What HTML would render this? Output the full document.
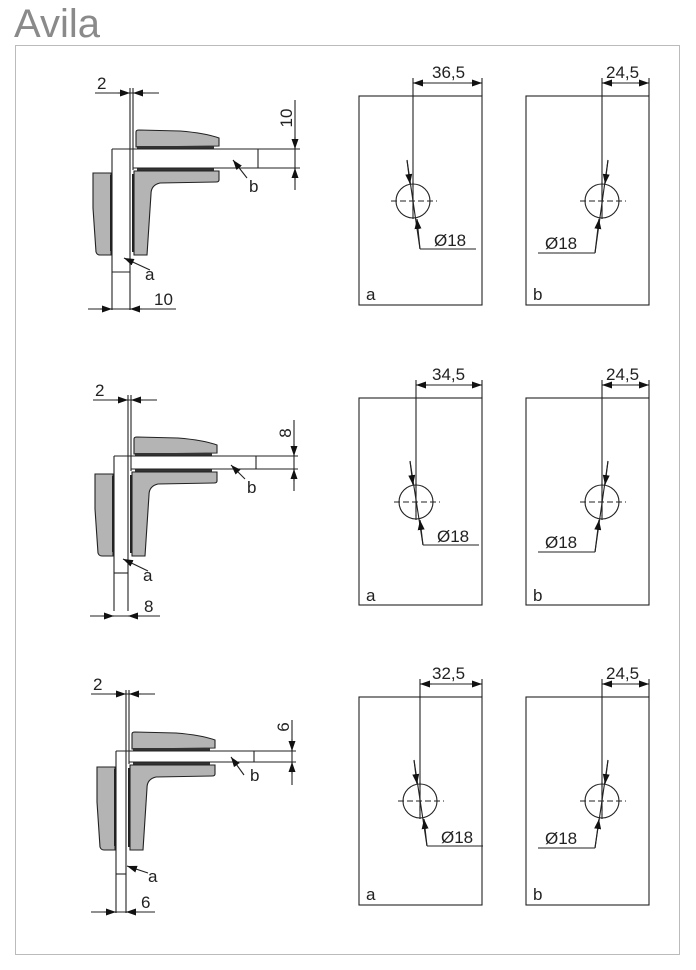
<!DOCTYPE html>
<html><head><meta charset="utf-8"><style>
html,body{margin:0;padding:0;background:#fff;}
svg{display:block;}
text{font-family:"Liberation Sans",sans-serif;fill:#222;}
</style></head><body>
<svg width="696" height="970" viewBox="0 0 696 970" xmlns="http://www.w3.org/2000/svg">
<defs>
<marker id="ar" markerWidth="10" markerHeight="7" refX="10" refY="3.5" orient="auto" markerUnits="userSpaceOnUse"><path d="M0,0 L10,3.5 L0,7 z" fill="#111"/></marker>
</defs>
<text x="14" y="37" font-size="40" style="fill:#8a8a8a">Avila</text>
<rect x="15.5" y="45.5" width="664" height="909" fill="none" stroke="#bbb" stroke-width="1"/>

<g stroke="#222" stroke-width="1.1" fill="none">
<!-- ROW 1 -->
<line x1="130" y1="88" x2="130" y2="310"/><line x1="133" y1="88" x2="133" y2="170"/>
<line x1="95" y1="93" x2="159" y2="93"/>
<line x1="118" y1="93" x2="130" y2="93" marker-end="url(#ar)"/><line x1="145" y1="93" x2="133" y2="93" marker-end="url(#ar)"/>
<path d="M136,147 L136,132 Q136,130 139,130 L180,131 Q205,133 219,138 L219,146 Z" fill="#b4b4b4"/>
<rect x="137" y="146" width="77" height="2.5" fill="#333" stroke="none"/>
<line x1="112" y1="149" x2="300" y2="149"/><line x1="133" y1="168" x2="300" y2="168"/><line x1="258" y1="149" x2="258" y2="168"/>
<rect x="137" y="168.5" width="77" height="2.5" fill="#333" stroke="none"/>
<path d="M134,171 L219,171 L219,180 Q219,182 216,182 L160,183 Q151,185 151,194 L147,255 L134,255 Z" fill="#b4b4b4"/>
<rect x="132" y="174" width="2.5" height="78" fill="#222" stroke="none"/>
<path d="M93,173 L111,173 L111,255 L100,255 Q97,255 96,252 L93,208 Z" fill="#b4b4b4"/>
<rect x="110" y="175" width="2.5" height="76" fill="#222" stroke="none"/>
<line x1="112" y1="149" x2="112" y2="310"/><line x1="112" y1="272" x2="130" y2="272"/>
<line x1="150" y1="270" x2="124" y2="258" marker-end="url(#ar)"/>
<line x1="247" y1="178" x2="233" y2="160" marker-end="url(#ar)"/>
<line x1="295" y1="100" x2="295" y2="190"/>
<line x1="295" y1="137" x2="295" y2="149" marker-end="url(#ar)"/><line x1="295" y1="180" x2="295" y2="168" marker-end="url(#ar)"/>
<line x1="88" y1="309" x2="176" y2="309"/>
<line x1="100" y1="309" x2="112" y2="309" marker-end="url(#ar)"/><line x1="142" y1="309" x2="130" y2="309" marker-end="url(#ar)"/>

<!-- ROW 2 -->
<line x1="128" y1="395" x2="128" y2="611"/><line x1="131" y1="395" x2="131" y2="471"/>
<line x1="93" y1="400" x2="157" y2="400"/>
<line x1="116" y1="400" x2="128" y2="400" marker-end="url(#ar)"/><line x1="143" y1="400" x2="131" y2="400" marker-end="url(#ar)"/>
<path d="M134,454 L134,439 Q134,437 137,437 L178,438 Q203,440 217,445 L217,453 Z" fill="#b4b4b4"/>
<rect x="135" y="453" width="77" height="2.5" fill="#333" stroke="none"/>
<line x1="114" y1="456" x2="298" y2="456"/><line x1="131" y1="469" x2="298" y2="469"/><line x1="256" y1="456" x2="256" y2="469"/>
<rect x="135" y="469.5" width="77" height="2.5" fill="#333" stroke="none"/>
<path d="M132,472 L217,472 L217,481 Q217,483 214,483 L158,484 Q149,486 149,495 L145,556 L132,556 Z" fill="#b4b4b4"/>
<rect x="130" y="475" width="2.5" height="78" fill="#222" stroke="none"/>
<path d="M95,474 L113,474 L113,556 L102,556 Q99,556 98,553 L95,509 Z" fill="#b4b4b4"/>
<rect x="112" y="476" width="2.5" height="76" fill="#222" stroke="none"/>
<line x1="114" y1="456" x2="114" y2="611"/><line x1="114" y1="573" x2="128" y2="573"/>
<line x1="148" y1="571" x2="123" y2="559" marker-end="url(#ar)"/>
<line x1="245" y1="479" x2="231" y2="465" marker-end="url(#ar)"/>
<line x1="294" y1="420" x2="294" y2="491"/>
<line x1="294" y1="444" x2="294" y2="456" marker-end="url(#ar)"/><line x1="294" y1="481" x2="294" y2="469" marker-end="url(#ar)"/>
<line x1="90" y1="616" x2="160" y2="616"/>
<line x1="102" y1="616" x2="114" y2="616" marker-end="url(#ar)"/><line x1="140" y1="616" x2="128" y2="616" marker-end="url(#ar)"/>

<!-- ROW 3 -->
<line x1="126" y1="690" x2="126" y2="913"/><line x1="129" y1="690" x2="129" y2="764"/>
<line x1="91" y1="694" x2="155" y2="694"/>
<line x1="114" y1="694" x2="126" y2="694" marker-end="url(#ar)"/><line x1="141" y1="694" x2="129" y2="694" marker-end="url(#ar)"/>
<path d="M132,749 L132,734 Q132,732 135,732 L176,733 Q201,735 215,740 L215,748 Z" fill="#b4b4b4"/>
<rect x="133" y="748" width="77" height="2.5" fill="#333" stroke="none"/>
<line x1="116" y1="751" x2="296" y2="751"/><line x1="129" y1="762" x2="296" y2="762"/><line x1="254" y1="751" x2="254" y2="762"/>
<rect x="133" y="762.5" width="77" height="2.5" fill="#333" stroke="none"/>
<path d="M130,765 L215,765 L215,774 Q215,776 212,776 L156,777 Q147,779 147,788 L143,850 L130,850 Z" fill="#b4b4b4"/>
<rect x="128" y="768" width="2.5" height="79" fill="#222" stroke="none"/>
<path d="M97,767 L115,767 L115,850 L104,850 Q101,850 100,847 L97,802 Z" fill="#b4b4b4"/>
<rect x="114" y="769" width="2.5" height="77" fill="#222" stroke="none"/>
<line x1="116" y1="751" x2="116" y2="913"/><line x1="116" y1="874" x2="126" y2="874"/>
<line x1="148" y1="873" x2="127" y2="866" marker-end="url(#ar)"/>
<line x1="244" y1="775" x2="231" y2="757" marker-end="url(#ar)"/>
<line x1="292" y1="720" x2="292" y2="785"/>
<line x1="292" y1="739" x2="292" y2="751" marker-end="url(#ar)"/><line x1="292" y1="774" x2="292" y2="762" marker-end="url(#ar)"/>
<line x1="91" y1="912" x2="155" y2="912"/>
<line x1="104" y1="912" x2="116" y2="912" marker-end="url(#ar)"/><line x1="138" y1="912" x2="126" y2="912" marker-end="url(#ar)"/>
</g>

<g font-size="17">
<text x="97" y="89">2</text><text x="249" y="192">b</text><text x="145" y="280">a</text><text x="154" y="305">10</text>
<text transform="translate(292,118) rotate(-90)" text-anchor="middle">10</text>
<text x="95" y="396">2</text><text x="247" y="493">b</text><text x="143" y="581">a</text><text x="144" y="612">8</text>
<text transform="translate(291,433) rotate(-90)" text-anchor="middle">8</text>
<text x="93" y="690">2</text><text x="250" y="781">b</text><text x="148" y="882">a</text><text x="141" y="908">6</text>
<text transform="translate(289,727) rotate(-90)" text-anchor="middle">6</text>
</g>

<g stroke="#222" stroke-width="1.1" fill="none">
<rect x="359" y="96" width="123" height="209"/>
<rect x="526" y="96" width="123" height="209"/>
<rect x="359" y="398" width="123" height="207"/>
<rect x="526" y="398" width="123" height="207"/>
<rect x="359" y="697" width="123" height="208"/>
<rect x="526" y="697" width="123" height="208"/>
</g>

<g stroke="#222" stroke-width="1.1" fill="none">
<!-- row1 a -->
<line x1="482" y1="78" x2="482" y2="96"/><line x1="413" y1="78" x2="413" y2="214"/>
<line x1="413" y1="83" x2="482" y2="83"/>
<line x1="425" y1="83" x2="413" y2="83" marker-end="url(#ar)"/><line x1="470" y1="83" x2="482" y2="83" marker-end="url(#ar)"/>
<circle cx="413" cy="201" r="17"/>
<line x1="391" y1="201" x2="437" y2="201" stroke-dasharray="6,3"/>
<line x1="407" y1="160" x2="420" y2="249"/><line x1="420" y1="249" x2="476" y2="249"/>
<line x1="407" y1="160" x2="410" y2="184" marker-end="url(#ar)"/><line x1="420" y1="249" x2="417" y2="219" marker-end="url(#ar)"/>
<!-- row1 b -->
<line x1="649" y1="78" x2="649" y2="96"/><line x1="602" y1="78" x2="602" y2="214"/>
<line x1="602" y1="83" x2="649" y2="83"/>
<line x1="614" y1="83" x2="602" y2="83" marker-end="url(#ar)"/><line x1="637" y1="83" x2="649" y2="83" marker-end="url(#ar)"/>
<circle cx="602" cy="201" r="17"/>
<line x1="580" y1="201" x2="626" y2="201" stroke-dasharray="6,3"/>
<line x1="608" y1="160" x2="595" y2="253"/><line x1="595" y1="253" x2="538" y2="253"/>
<line x1="608" y1="160" x2="605" y2="184" marker-end="url(#ar)"/><line x1="595" y1="253" x2="599" y2="219" marker-end="url(#ar)"/>

<!-- row2 a -->
<line x1="482" y1="380" x2="482" y2="398"/><line x1="416" y1="380" x2="416" y2="516"/>
<line x1="416" y1="385" x2="482" y2="385"/>
<line x1="428" y1="385" x2="416" y2="385" marker-end="url(#ar)"/><line x1="470" y1="385" x2="482" y2="385" marker-end="url(#ar)"/>
<circle cx="416" cy="502" r="17"/>
<line x1="394" y1="502" x2="440" y2="502" stroke-dasharray="6,3"/>
<line x1="410" y1="461" x2="423" y2="545"/><line x1="423" y1="545" x2="479" y2="545"/>
<line x1="410" y1="461" x2="413" y2="485" marker-end="url(#ar)"/><line x1="423" y1="545" x2="420" y2="520" marker-end="url(#ar)"/>
<!-- row2 b -->
<line x1="649" y1="380" x2="649" y2="398"/><line x1="602" y1="380" x2="602" y2="516"/>
<line x1="602" y1="385" x2="649" y2="385"/>
<line x1="614" y1="385" x2="602" y2="385" marker-end="url(#ar)"/><line x1="637" y1="385" x2="649" y2="385" marker-end="url(#ar)"/>
<circle cx="602" cy="502" r="17"/>
<line x1="580" y1="502" x2="626" y2="502" stroke-dasharray="6,3"/>
<line x1="608" y1="461" x2="595" y2="552"/><line x1="595" y1="552" x2="538" y2="552"/>
<line x1="608" y1="461" x2="605" y2="485" marker-end="url(#ar)"/><line x1="595" y1="552" x2="599" y2="520" marker-end="url(#ar)"/>

<!-- row3 a -->
<line x1="482" y1="679" x2="482" y2="697"/><line x1="420" y1="679" x2="420" y2="815"/>
<line x1="420" y1="684" x2="482" y2="684"/>
<line x1="432" y1="684" x2="420" y2="684" marker-end="url(#ar)"/><line x1="470" y1="684" x2="482" y2="684" marker-end="url(#ar)"/>
<circle cx="420" cy="801" r="17"/>
<line x1="398" y1="801" x2="444" y2="801" stroke-dasharray="6,3"/>
<line x1="414" y1="760" x2="427" y2="846"/><line x1="427" y1="846" x2="483" y2="846"/>
<line x1="414" y1="760" x2="417" y2="784" marker-end="url(#ar)"/><line x1="427" y1="846" x2="424" y2="819" marker-end="url(#ar)"/>
<!-- row3 b -->
<line x1="649" y1="679" x2="649" y2="697"/><line x1="602" y1="679" x2="602" y2="815"/>
<line x1="602" y1="684" x2="649" y2="684"/>
<line x1="614" y1="684" x2="602" y2="684" marker-end="url(#ar)"/><line x1="637" y1="684" x2="649" y2="684" marker-end="url(#ar)"/>
<circle cx="602" cy="801" r="17"/>
<line x1="580" y1="801" x2="626" y2="801" stroke-dasharray="6,3"/>
<line x1="608" y1="760" x2="595" y2="848"/><line x1="595" y1="848" x2="538" y2="848"/>
<line x1="608" y1="760" x2="605" y2="784" marker-end="url(#ar)"/><line x1="595" y1="848" x2="599" y2="819" marker-end="url(#ar)"/>
</g>

<g font-size="17">
<text x="432" y="78">36,5</text><text x="606" y="78">24,5</text>
<text x="434" y="246">Ø18</text><text x="545" y="249">Ø18</text>
<text x="366" y="300">a</text><text x="533" y="300">b</text>
<text x="432" y="380">34,5</text><text x="606" y="380">24,5</text>
<text x="437" y="542">Ø18</text><text x="545" y="548">Ø18</text>
<text x="366" y="601">a</text><text x="533" y="601">b</text>
<text x="432" y="679">32,5</text><text x="606" y="679">24,5</text>
<text x="441" y="843">Ø18</text><text x="545" y="844">Ø18</text>
<text x="366" y="900">a</text><text x="533" y="900">b</text>
</g>

<g stroke="#222" stroke-width="1.1" stroke-dasharray="5,3">
<line x1="413" y1="182" x2="413" y2="222"/>
<line x1="602" y1="182" x2="602" y2="222"/>
<line x1="416" y1="483" x2="416" y2="523"/>
<line x1="602" y1="483" x2="602" y2="523"/>
<line x1="420" y1="782" x2="420" y2="822"/>
<line x1="602" y1="782" x2="602" y2="822"/>
</g>
</svg>
</body></html>
